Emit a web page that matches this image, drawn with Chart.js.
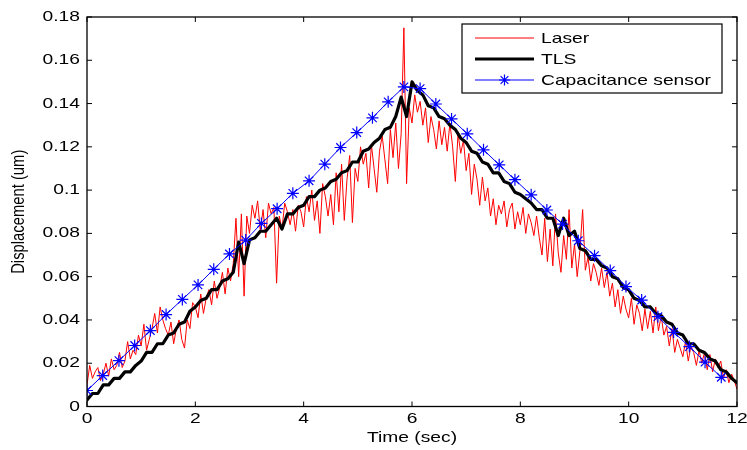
<!DOCTYPE html>
<html>
<head>
<meta charset="utf-8">
<script src="https://cdn.jsdelivr.net/npm/chart.js@4"></script>
<style>
  html, body { margin: 0; padding: 0; background: #fff; }
  #wrap { width: 747px; height: 450px; position: relative; }
</style>
</head>
<body>
<div id="wrap"><canvas id="c"></canvas></div>
<script>
// ---- data ----
const xTicks = [0, 2, 4, 6, 8, 10, 12];
const yTicks = [0, 0.02, 0.04, 0.06, 0.08, 0.1, 0.12, 0.14, 0.16, 0.18];
const yTickLabels = ['0', '0.02', '0.04', '0.06', '0.08', '0.1', '0.12', '0.14', '0.16', '0.18'];
const seriesNames = ['Laser', 'TLS', 'Capacitance sensor'];

const laserStep = 0.05; // sampling interval (sec)
const laserDisp = [
  0.010, 0.019, 0.013, 0.016, 0.018, 0.012, 0.015, 0.020, 0.014, 0.022, 0.017, 0.019, 0.025, 0.018, 0.021, 0.030, 0.022, 0.026, 0.024, 0.033,
  0.028, 0.038, 0.026, 0.031, 0.036, 0.043, 0.034, 0.046, 0.040, 0.036, 0.033, 0.039, 0.029, 0.036, 0.040, 0.031, 0.027, 0.040, 0.036, 0.048,
  0.046, 0.041, 0.052, 0.043, 0.050, 0.054, 0.047, 0.058, 0.050, 0.055, 0.062, 0.052, 0.064, 0.058, 0.066, 0.087, 0.060, 0.089, 0.051, 0.088,
  0.080, 0.093, 0.087, 0.095, 0.081, 0.091, 0.078, 0.094, 0.089, 0.092, 0.057, 0.088, 0.082, 0.094, 0.090, 0.084, 0.091, 0.081, 0.093, 0.090,
  0.083, 0.097, 0.090, 0.100, 0.086, 0.095, 0.080, 0.103, 0.097, 0.088, 0.098, 0.084, 0.108, 0.090, 0.112, 0.086, 0.105, 0.116, 0.085, 0.110,
  0.104, 0.120, 0.112, 0.117, 0.101, 0.121, 0.110, 0.099, 0.118, 0.125, 0.114, 0.103, 0.128, 0.115, 0.131, 0.110, 0.126, 0.175, 0.103, 0.138,
  0.131, 0.144, 0.136, 0.141, 0.130, 0.138, 0.122, 0.134, 0.128, 0.119, 0.132, 0.121, 0.129, 0.118, 0.131, 0.120, 0.104, 0.126, 0.117, 0.123,
  0.109, 0.117, 0.098, 0.112, 0.105, 0.093, 0.106, 0.095, 0.101, 0.088, 0.096, 0.084, 0.093, 0.089, 0.095, 0.083, 0.091, 0.094, 0.082, 0.090,
  0.084, 0.092, 0.080, 0.089, 0.085, 0.079, 0.088, 0.078, 0.070, 0.087, 0.067, 0.082, 0.065, 0.089, 0.071, 0.062, 0.079, 0.068, 0.091, 0.064,
  0.075, 0.060, 0.072, 0.091, 0.063, 0.069, 0.058, 0.066, 0.062, 0.056, 0.064, 0.055, 0.062, 0.051, 0.057, 0.046, 0.054, 0.043, 0.051, 0.045,
  0.041, 0.050, 0.038, 0.047, 0.043, 0.035, 0.045, 0.036, 0.044, 0.034, 0.046, 0.035, 0.042, 0.033, 0.037, 0.028, 0.036, 0.025, 0.031, 0.027,
  0.023, 0.030, 0.021, 0.028, 0.025, 0.019, 0.026, 0.020, 0.025, 0.017, 0.024, 0.016, 0.022, 0.018, 0.021, 0.013, 0.017, 0.011, 0.015, 0.012,
  0.008
];

const tlsStep = 0.1; // sampling interval (sec)
const tlsDisp = [
  0.003, 0.006, 0.006, 0.010, 0.010, 0.013, 0.013, 0.016, 0.016, 0.019,
  0.021, 0.025, 0.025, 0.029, 0.029, 0.033, 0.034, 0.038, 0.039, 0.044,
  0.046, 0.049, 0.050, 0.054, 0.054, 0.058, 0.059, 0.062, 0.076, 0.066,
  0.077, 0.078, 0.081, 0.081, 0.084, 0.087, 0.082, 0.089, 0.089, 0.092,
  0.093, 0.097, 0.097, 0.100, 0.101, 0.104, 0.105, 0.108, 0.109, 0.113,
  0.113, 0.118, 0.119, 0.122, 0.124, 0.128, 0.129, 0.134, 0.143, 0.134,
  0.150, 0.146, 0.144, 0.139, 0.138, 0.134, 0.133, 0.130, 0.128, 0.124,
  0.122, 0.118, 0.117, 0.113, 0.112, 0.108, 0.108, 0.104, 0.103, 0.099,
  0.098, 0.096, 0.094, 0.091, 0.091, 0.087, 0.087, 0.079, 0.087, 0.079,
  0.081, 0.073, 0.072, 0.068, 0.068, 0.065, 0.064, 0.060, 0.059, 0.055,
  0.054, 0.050, 0.049, 0.046, 0.046, 0.043, 0.042, 0.039, 0.038, 0.034,
  0.033, 0.029, 0.029, 0.026, 0.025, 0.022, 0.021, 0.017, 0.016, 0.013,
  0.011
];

const capTimes = [0, 0.29, 0.59, 0.88, 1.17, 1.46, 1.76, 2.05, 2.34, 2.63, 2.93, 3.22, 3.51, 3.80, 4.10, 4.39, 4.68, 4.98, 5.27, 5.56, 5.85,
  6.15, 6.44, 6.73, 7.02, 7.32, 7.61, 7.90, 8.20, 8.49, 8.78, 9.07, 9.37, 9.66, 9.95, 10.24, 10.54, 10.83, 11.12, 11.41, 11.71];
const capDisp = [0.0074, 0.0143, 0.0212, 0.0282, 0.0351, 0.0425, 0.0495, 0.0562, 0.0634, 0.0705, 0.0769, 0.0846, 0.0914, 0.0985, 0.1043, 0.112, 0.1197, 0.1266, 0.1334, 0.1408, 0.1477,
  0.1469, 0.1398, 0.1329, 0.126, 0.1186, 0.1117, 0.1048, 0.0978, 0.0908, 0.0843, 0.0766, 0.0697, 0.0628, 0.0554, 0.0492, 0.0415, 0.0343, 0.0277, 0.0205, 0.0135];

// ---- build points ----
const laserPts = laserDisp.map((v, i) => ({ x: +(i * laserStep).toFixed(2), y: v }));
const tlsPts = tlsDisp.map((v, i) => ({ x: +(i * tlsStep).toFixed(2), y: v }));
const capPts = capDisp.map((v, i) => ({ x: capTimes[i], y: v }));

const FONT = '14.8px "Liberation Sans", Arial, sans-serif';
const STRETCH = 1.3;

function stretchText(ctx, text, x, y, align, baseline) {
  ctx.save();
  ctx.font = FONT;
  ctx.fillStyle = '#000';
  ctx.textBaseline = baseline;
  ctx.textAlign = align;
  ctx.translate(x, y);
  ctx.scale(STRETCH, 1);
  ctx.fillText(text, 0, 0);
  ctx.restore();
}

const framePlugin = {
  id: 'matlabFrame',
  beforeDraw(chart) {
    const ctx = chart.ctx;
    ctx.save();
    ctx.fillStyle = '#fff';
    ctx.fillRect(0, 0, chart.width, chart.height);
    ctx.restore();
  },
  afterDraw(chart) {
    const ctx = chart.ctx;
    const a = chart.chartArea;
    const xs = chart.scales.x, ys = chart.scales.y;
    ctx.save();
    ctx.strokeStyle = '#000';
    ctx.lineWidth = 1.3;
    ctx.strokeRect(a.left, a.top, a.right - a.left, a.bottom - a.top);
    const tl = 5;
    ctx.beginPath();
    xTicks.forEach(t => {
      const px = xs.getPixelForValue(t);
      ctx.moveTo(px, a.bottom); ctx.lineTo(px, a.bottom - tl);
      ctx.moveTo(px, a.top); ctx.lineTo(px, a.top + tl);
    });
    yTicks.forEach(t => {
      const py = ys.getPixelForValue(t);
      ctx.moveTo(a.left, py); ctx.lineTo(a.left + tl, py);
      ctx.moveTo(a.right, py); ctx.lineTo(a.right - tl, py);
    });
    ctx.lineWidth = 1;
    ctx.stroke();
    ctx.restore();

    // tick labels
    xTicks.forEach(t => stretchText(ctx, String(t), xs.getPixelForValue(t), a.bottom + 12, 'center', 'middle'));
    yTicks.forEach((t, i) => stretchText(ctx, yTickLabels[i], a.left - 7, ys.getPixelForValue(t), 'right', 'middle'));

    // axis titles
    stretchText(ctx, 'Time (sec)', (a.left + a.right) / 2, a.bottom + 31, 'center', 'middle');
    ctx.save();
    ctx.font = FONT;
    ctx.fillStyle = '#000';
    ctx.textAlign = 'center';
    ctx.textBaseline = 'middle';
    ctx.translate(19, (a.top + a.bottom) / 2);
    ctx.scale(STRETCH, 1);
    ctx.rotate(-Math.PI / 2);
    ctx.fillText('Displacement (um)', 0, 0);
    ctx.restore();

    // legend
    const L = 462, R = 722, T = 24, B = 93;
    ctx.save();
    ctx.fillStyle = '#fff';
    ctx.fillRect(L, T, R - L, B - T);
    ctx.strokeStyle = '#000';
    ctx.lineWidth = 1.2;
    ctx.strokeRect(L, T, R - L, B - T);
    const rows = [38, 59, 80];
    const styles = [
      { c: '#ff0000', w: 1 },
      { c: '#000000', w: 3 },
      { c: '#0000ff', w: 1 }
    ];
    const x0 = 475, x1 = 534;
    rows.forEach((ry, i) => {
      ctx.beginPath();
      ctx.strokeStyle = styles[i].c;
      ctx.lineWidth = styles[i].w;
      ctx.moveTo(x0, ry); ctx.lineTo(x1, ry);
      ctx.stroke();
    });
    // star marker
    const mx = (x0 + x1) / 2, my = rows[2], r = 5.5;
    ctx.beginPath();
    ctx.strokeStyle = '#0000ff';
    ctx.lineWidth = 1.2;
    ctx.moveTo(mx - r, my); ctx.lineTo(mx + r, my);
    ctx.moveTo(mx, my - r); ctx.lineTo(mx, my + r);
    const d = r * 0.707;
    ctx.moveTo(mx - d, my - d); ctx.lineTo(mx + d, my + d);
    ctx.moveTo(mx - d, my + d); ctx.lineTo(mx + d, my - d);
    ctx.stroke();
    ctx.restore();
    rows.forEach((ry, i) => stretchText(ctx, seriesNames[i], 541, ry + 1, 'left', 'middle'));
  }
};

new Chart(document.getElementById('c'), {
  type: 'line',
  data: {
    datasets: [
      { label: seriesNames[0], data: laserPts, borderColor: '#ff0000', borderWidth: 1, pointRadius: 0, tension: 0, order: 3 },
      { label: seriesNames[1], data: tlsPts, borderColor: '#000000', borderWidth: 3.2, pointRadius: 0, tension: 0, order: 2, borderJoinStyle: 'round', borderCapStyle: 'round' },
      { label: seriesNames[2], data: capPts, borderColor: '#0000ff', borderWidth: 1, pointRadius: 6, pointStyle: 'star', pointBorderColor: '#0000ff', pointBorderWidth: 1.2, pointBackgroundColor: '#0000ff', tension: 0, order: 1 }
    ]
  },
  options: {
    responsive: true,
    maintainAspectRatio: false,
    animation: false,
    layout: { padding: { left: 87, right: 10, top: 17, bottom: 43.5 } },
    plugins: { legend: { display: false }, tooltip: { enabled: false } },
    scales: {
      x: { type: 'linear', min: 0, max: 12, display: false },
      y: { type: 'linear', min: 0, max: 0.18, display: false }
    }
  },
  plugins: [framePlugin]
});
</script>
</body>
</html>
